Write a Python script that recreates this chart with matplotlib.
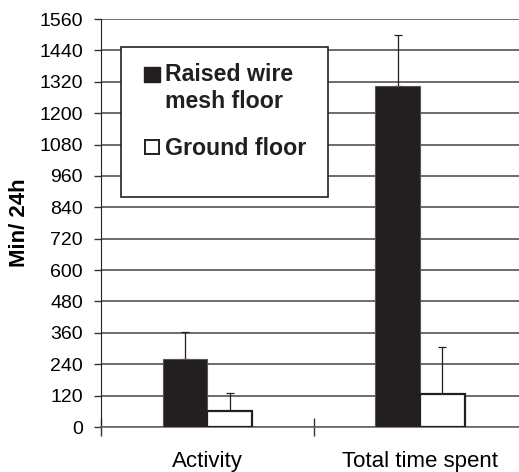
import numpy as np
import matplotlib
matplotlib.use('Agg')
import matplotlib.pyplot as plt
from matplotlib.patches import Rectangle

plt.rcParams['font.family'] = ['Liberation Sans', 'DejaVu Sans']

# data
categories = ['Activity', 'Total time spent']
raised = [260, 1305]
raised_err = [104, 193]
ground = [61, 126]
ground_err = [69, 181]
yticks = list(range(0, 1561, 120))

W, H = 519, 472
fig = plt.figure(figsize=(W / 100, H / 100), dpi=100)

# axes in pixels: left 101, bottom y=427, top y=19, right 526.5 (past the edge)
ax = fig.add_axes([101 / W, (H - 427) / H, 425.5 / W, 408 / H])

x = np.arange(len(categories))
bw = 0.21
dark = '#231f20'

ax.bar(x - bw / 2, raised, bw, color=dark, edgecolor='#555555', linewidth=0.8, zorder=3)
ax.bar(x + bw / 2, ground, bw, color='white', edgecolor=dark, linewidth=1.6, zorder=3)
ax.errorbar(x - bw / 2, raised, yerr=[np.zeros(2), raised_err], fmt='none',
            ecolor=dark, elinewidth=0.9, capsize=3, capthick=0.9, zorder=2)
ax.errorbar(x + bw / 2, ground, yerr=[np.zeros(2), ground_err], fmt='none',
            ecolor=dark, elinewidth=0.9, capsize=3, capthick=0.9, zorder=2)

ax.set_ylim(0, 1560)
ax.set_xlim(-0.5, 1.5)
ax.set_yticks(yticks)
ax.yaxis.grid(True, color='#444444', linewidth=1.1, zorder=0)
ax.set_axisbelow(True)

ax.set_xticks(x)
ax.set_xticklabels(categories, fontsize=16)
ax.set_xticks([-0.5, 0.5, 1.5], minor=True)
ax.tick_params(axis='x', which='major', length=0, pad=17)
ax.tick_params(axis='x', which='minor', length=13, direction='inout', width=1, color='#333333')
ax.tick_params(axis='y', length=5, width=1, pad=8, labelsize=14, color='#333333')

for s in ['top', 'right']:
    ax.spines[s].set_visible(False)
ax.spines['left'].set_color('#222222')
ax.spines['bottom'].set_color('#666666')
ax.spines['bottom'].set_linewidth(1.2)

fig.text(20 / W, 1 - 223 / H, 'Min/ 24h', rotation=90, ha='center', va='center',
         fontsize=16, fontweight='bold')

# legend box, placed in figure pixels
def fx(px):
    return px / W

def fy(py):
    return 1 - py / H

fig.patches.append(Rectangle((fx(121), fy(197)), fx(328) - fx(121), fy(47) - fy(197),
                             transform=fig.transFigure, facecolor='white',
                             edgecolor='#222222', linewidth=1.2, zorder=5))
fig.patches.append(Rectangle((fx(144), fy(82)), fx(160) - fx(144), fy(67) - fy(82),
                             transform=fig.transFigure, facecolor=dark,
                             edgecolor=dark, linewidth=1, zorder=6))
fig.patches.append(Rectangle((fx(145), fy(154)), fx(159) - fx(145), fy(140) - fy(154),
                             transform=fig.transFigure, facecolor='white',
                             edgecolor=dark, linewidth=1.4, zorder=6))
fig.text(fx(165), fy(81), 'Raised wire', fontsize=16.7, fontweight='bold',
         va='baseline', ha='left', color=dark, zorder=7)
fig.text(fx(165), fy(108), 'mesh floor', fontsize=16.7, fontweight='bold',
         va='baseline', ha='left', color=dark, zorder=7)
fig.text(fx(165), fy(155), 'Ground floor', fontsize=16.7, fontweight='bold',
         va='baseline', ha='left', color=dark, zorder=7)

fig.savefig('out.png', dpi=100)
